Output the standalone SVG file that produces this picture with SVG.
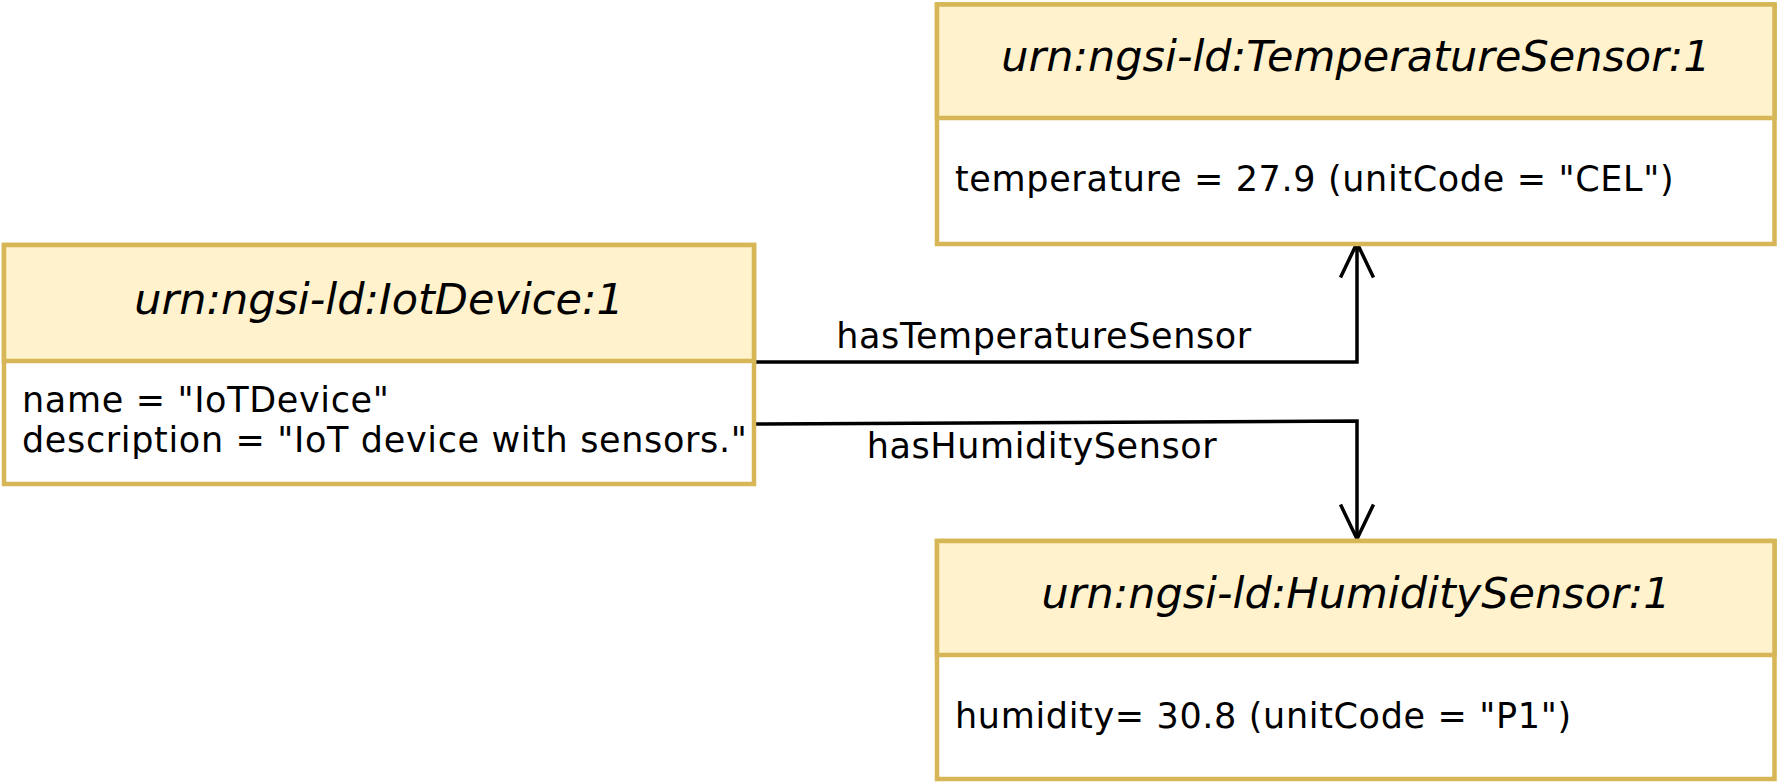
<svg xmlns="http://www.w3.org/2000/svg" width="1779" height="783" viewBox="0 0 1779 783">
<style>
.hdr{fill:#fff2cc;stroke:#d6b656;stroke-width:4.5}
.bdy{fill:#ffffff;stroke:#d6b656;stroke-width:4.5}
.title{font-family:"DejaVu Sans",Verdana,sans-serif;font-style:italic;font-size:43px;fill:#000;text-anchor:middle}
.attr{font-family:"DejaVu Sans",Verdana,sans-serif;font-size:35px;letter-spacing:0.65px;fill:#000}
.lbl{font-family:"DejaVu Sans",Verdana,sans-serif;font-size:35px;letter-spacing:0.6px;fill:#000;text-anchor:middle}
.edge{fill:none;stroke:#000;stroke-width:3.5}
</style>
<defs>
<marker id="open" markerUnits="userSpaceOnUse" orient="auto" markerWidth="1" markerHeight="1" refX="0" refY="0" overflow="visible">
<path d="M -34.5 -16.5 L 0 0 L -34.5 16.5" fill="none" stroke="#000" stroke-width="3.5"/>
</marker>
</defs>
<g id="connectors">
<polyline class="edge" points="756,362 1357,362 1357,243" marker-end="url(#open)"/>
<polyline class="edge" points="756,424 1357,421 1357,539" marker-end="url(#open)"/>
<text class="lbl" x="1044" y="348">hasTemperatureSensor</text>
<text class="lbl" x="1042" y="458">hasHumiditySensor</text>
</g>
<g id="iotDevice">
<rect class="bdy" x="4" y="245" width="750" height="239"/>
<rect class="hdr" x="4" y="245" width="750" height="116"/>
<text class="title" x="379" y="314">urn:ngsi-ld:IotDevice:1</text>
<text class="attr" x="22" y="412">name = "IoTDevice"</text>
<text class="attr" x="22" y="452">description = "IoT device with sensors."</text>
</g>
<g id="temperatureSensor">
<rect class="bdy" x="937" y="4.5" width="837.5" height="239.5"/>
<rect class="hdr" x="937" y="4.5" width="837.5" height="113.5"/>
<text class="title" x="1356" y="71">urn:ngsi-ld:TemperatureSensor:1</text>
<text class="attr" x="955" y="191">temperature = 27.9 (unitCode = "CEL")</text>
</g>
<g id="humiditySensor">
<rect class="bdy" x="937" y="541" width="837.5" height="238"/>
<rect class="hdr" x="937" y="541" width="837.5" height="114"/>
<text class="title" x="1356" y="608">urn:ngsi-ld:HumiditySensor:1</text>
<text class="attr" x="955" y="728">humidity= 30.8 (unitCode = "P1")</text>
</g>
</svg>
